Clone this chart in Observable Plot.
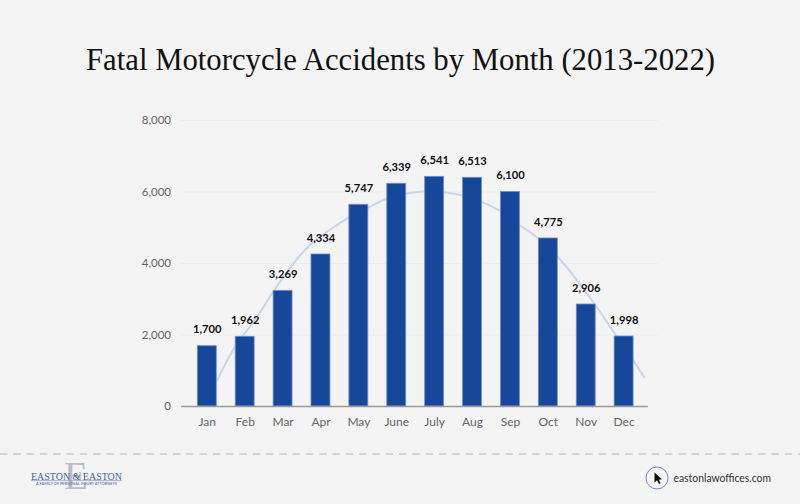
<!DOCTYPE html>
<html>
<head>
<meta charset="utf-8">
<script src="https://cdn.jsdelivr.net/npm/d3@7"></script>
<script src="https://cdn.jsdelivr.net/npm/@observablehq/plot@0.6"></script>
<style>
html,body{margin:0;padding:0;background:#f4f4f4;}
#page{position:relative;width:800px;height:504px;overflow:hidden;background:#f4f4f4;}
#chart,#overlay{position:absolute;left:0;top:0;}
#overlay{pointer-events:none;}
</style>
</head>
<body>
<div id="page"><div id="chart"></div></div>
<script>
const titleText = "Fatal Motorcycle Accidents by Month (2013-2022)";
const months = ["Jan","Feb","Mar","Apr","May","June","July","Aug","Sep","Oct","Nov","Dec"];
const monthNumbers = [1,2,3,4,5,6,7,8,9,10,11,12];
// Printed labels
const valueLabels = ["1,700","1,962","3,269","4,334","5,747","6,339","6,541","6,513","6,100","4,775","2,906","1,998"];
// Bar heights as drawn in the picture (they sit slightly below the printed values)
const barHeights = [1687,1950,3236,4252,5642,6230,6424,6396,6000,4700,2853,1958];
// Pale trend curve
const trendMonth = [1.26,1.75,2.25,2.75,3.27,3.75,4.25,4.75,5.25,5.75,6.26,6.76,7.27,7.74,8.25,8.75,9.26,9.75,10.26,10.76,11.27,11.75,12.26,12.53];
const trendValue = [727,1706,2406,3225,4000,4559,4951,5295,5566,5818,5958,6022,5994,5902,5715,5455,5063,4691,4176,3524,2797,2042,1259,820];
const yTicks = [0,2000,4000,6000,8000];

const bars = months.map((m,i)=>({month:monthNumbers[i],name:m,h:barHeights[i],label:valueLabels[i]}));
const trend = trendMonth.map((m,i)=>({m,v:trendValue[i]}));
const font = "Lato, sans-serif";

const plot = Plot.plot({
  width:800,height:504,
  marginLeft:168.9,marginRight:138.5,marginTop:120,marginBottom:98,
  style:{background:"transparent",fontFamily:font,overflow:"visible"},
  x:{domain:[0,13],axis:null},
  y:{domain:[0,8000],axis:null},
  marks:[
    Plot.ruleY(yTicks.slice(1),{x1:0.32,x2:12.9,stroke:"#ececec",strokeWidth:1}),
    Plot.line(trend,{x:"m",y:"v",stroke:"#c8d6ea",strokeWidth:2,curve:"catmull-rom"}),
    Plot.rectY(bars,{x1:d=>d.month-0.25,x2:d=>d.month+0.25,y1:0,y2:"h",fill:"#17479b",stroke:"#6e8fcb",strokeWidth:0.8}),
    Plot.ruleY([0],{x1:0.32,x2:12.64,stroke:"#999999",strokeWidth:1.5}),
    Plot.text(yTicks,{x:0.32,y:d=>d,text:d=>d3.format(",")(d),textAnchor:"end",dx:-10.5,fill:"#666666",fontSize:11.5,fontFamily:font,lineAnchor:"middle"}),
    Plot.text(bars,{x:"month",y:0,text:"name",dy:16,fill:"#666666",fontSize:12,fontFamily:font,lineAnchor:"middle"}),
    Plot.text(bars,{x:"month",y:"h",text:"label",dy:-16.5,fill:"#111111",fontSize:11.2,fontWeight:700,fontFamily:font,lineAnchor:"middle"})
  ]
});
document.getElementById("chart").appendChild(plot);

const svg = d3.select("#page").append("svg").attr("id","overlay").attr("width",800).attr("height",504);
svg.append("text").text(titleText).attr("x",86).attr("y",70)
  .attr("font-family","'Liberation Serif',serif").attr("font-size",32).attr("fill","#111")
  .attr("textLength",629).attr("lengthAdjust","spacingAndGlyphs");
svg.append("line").attr("x1",0).attr("x2",800).attr("y1",454).attr("y2",454)
  .attr("stroke","#cccccc").attr("stroke-width",1.5).attr("stroke-dasharray","7.5 5.8");
// logo
svg.append("text").text("E").attr("x",76).attr("y",489).attr("text-anchor","middle")
  .attr("font-family","'Liberation Serif',serif").attr("font-size",39).attr("fill","#b9bdc6");
svg.append("text").text("EASTON & EASTON").attr("x",31).attr("y",479.5)
  .attr("font-family","'Liberation Serif',serif").attr("font-size",9.5).attr("fill","#3f62a8")
  .attr("textLength",91).attr("lengthAdjust","spacingAndGlyphs");
svg.append("line").attr("x1",31).attr("x2",122).attr("y1",480.6).attr("y2",480.6).attr("stroke","#8f9ab0").attr("stroke-width",0.7);
svg.append("text").text("A FAMILY OF PERSONAL INJURY ATTORNEYS").attr("x",36).attr("y",485)
  .attr("font-family","Lato,sans-serif").attr("font-size",3.8).attr("fill","#3f62a8")
  .attr("textLength",81).attr("lengthAdjust","spacingAndGlyphs");
// site badge
svg.append("circle").attr("cx",657).attr("cy",478).attr("r",11).attr("fill","none").attr("stroke","#6e8fcb").attr("stroke-width",1);
svg.append("path").attr("d","M654.5 472.5 L654.5 482.5 L657 480.3 L659 484 L660.6 483.2 L658.8 479.7 L662 479.3 Z").attr("fill","#111");
svg.append("text").text("eastonlawoffices.com").attr("x",673.5).attr("y",482)
  .attr("font-family","Lato,sans-serif").attr("font-size",11.5).attr("fill","#333")
  .attr("textLength",97.5).attr("lengthAdjust","spacingAndGlyphs");
</script>
</body>
</html>
